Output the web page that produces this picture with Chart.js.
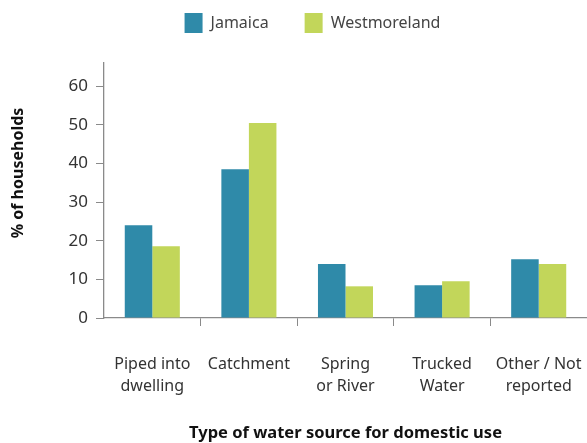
<!DOCTYPE html>
<html>
<head>
<meta charset="utf-8">
<script src="https://cdn.jsdelivr.net/npm/chart.js@4.4.0/dist/chart.umd.min.js"></script>
<style>
  html, body { margin: 0; padding: 0; background: #fff; }
  #wrap { width: 587px; height: 443px; }
</style>
</head>
<body>
<div id="wrap"><canvas id="chart"></canvas></div>
<script>
// Data
const categories = [
  ['Piped into', 'dwelling'],
  ['Catchment'],
  ['Spring', 'or River'],
  ['Trucked', 'Water'],
  ['Other / Not', 'reported']
];
const jamaicaValues = [24.0, 38.5, 14.0, 8.5, 15.2];
const westmorelandValues = [18.6, 50.5, 8.2, 9.5, 14.0];
const yTicks = [0, 10, 20, 30, 40, 50, 60];

const FONT = 'Noto Sans';
const AXIS_COLOR = '#8a8a8a';
const TEXT_COLOR = '#333333';

// legend sits above the plot, a bit right of the canvas centre
const legendShift = {
  id: 'legendShift',
  afterLayout(chart) {
    const lg = chart.legend;
    lg.left += 19;
    lg.right += 19;
    lg.top -= 20;
    lg.bottom -= 20;
  }
};

// y title drawn by hand so it can sit a little above the plot centre
const yTitle = {
  id: 'yTitle',
  afterDraw(chart) {
    const ctx = chart.ctx;
    ctx.save();
    ctx.translate(18, 173);
    ctx.rotate(-Math.PI / 2);
    ctx.font = `bold 16px "${FONT}"`;
    ctx.fillStyle = '#111';
    ctx.textAlign = 'center';
    ctx.textBaseline = 'middle';
    ctx.fillText('% of households', 0, 0);
    ctx.restore();
  }
};

new Chart(document.getElementById('chart'), {
  type: 'bar',
  data: {
    labels: categories,
    datasets: [
      {
        label: 'Jamaica',
        data: jamaicaValues,
        backgroundColor: '#2f8aa9'
      },
      {
        label: 'Westmoreland',
        data: westmorelandValues,
        backgroundColor: '#c2d65a'
      }
    ]
  },
  options: {
    responsive: true,
    maintainAspectRatio: false,
    animation: false,
    layout: { padding: { top: -3, right: 0, left: 0, bottom: 0 } },
    datasets: {
      bar: { barPercentage: 1, categoryPercentage: 0.57 }
    },
    plugins: {
      tooltip: { enabled: false },
      legend: {
        position: 'top',
        labels: {
          boxWidth: 18,
          boxHeight: 20,
          padding: 36,
          color: '#444',
          font: { family: FONT, size: 16 }
        }
      }
    },
    scales: {
      x: {
        grid: {
          offset: true,
          drawOnChartArea: false,
          drawTicks: true,
          tickLength: 8,
          color: (ctx) => (ctx.index === 0 ? 'rgba(0,0,0,0)' : AXIS_COLOR)
        },
        border: { color: AXIS_COLOR, width: 1.3 },
        ticks: {
          padding: 28,
          color: TEXT_COLOR,
          maxRotation: 0,
          font: { family: FONT, size: 16, lineHeight: 1.35 }
        },
        title: {
          display: true,
          text: 'Type of water source for domestic use',
          color: '#111',
          font: { family: FONT, size: 16.5, weight: 'bold' },
          padding: { top: 12, bottom: 0 }
        },
        afterFit: (scale) => {
          scale.height = 125;
          scale.paddingLeft = 0;
          scale.paddingRight = 0;
        }
      },
      y: {
        min: 0,
        max: 66,
        grid: {
          drawOnChartArea: false,
          drawTicks: true,
          tickLength: 8,
          color: AXIS_COLOR
        },
        border: { color: AXIS_COLOR, width: 1.3 },
        ticks: {
          stepSize: 10,
          padding: 8,
          color: TEXT_COLOR,
          font: { family: FONT, size: 17 }
        },
        afterBuildTicks: (scale) => {
          scale.ticks = yTicks.map((v) => ({ value: v }));
        },
        title: { display: false },
        afterFit: (scale) => { scale.width = 104; }
      }
    }
  },
  plugins: [legendShift, yTitle]
});
</script>
</body>
</html>
